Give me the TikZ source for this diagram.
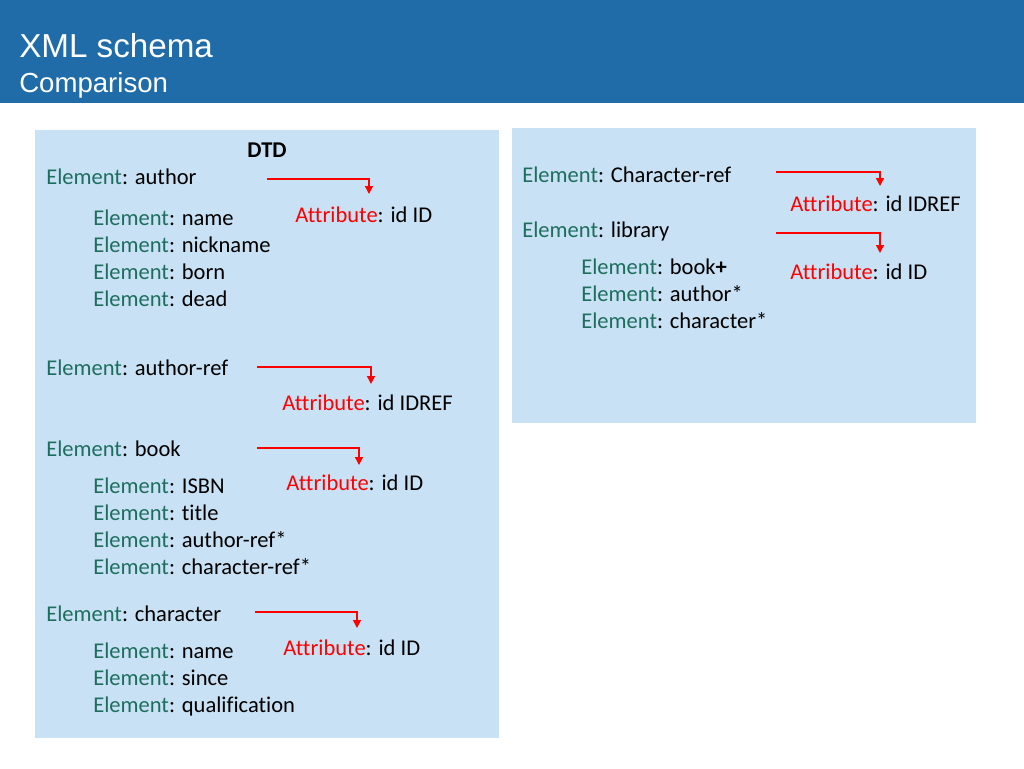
\documentclass[tikz,border=0pt]{standalone}
\usepackage{fontspec}
\setmainfont{Carlito}[Ligatures={NoCommon}]
\newfontfamily\arialf{Liberation Sans}
\usetikzlibrary{arrows.meta}
\definecolor{hdr}{RGB}{31,108,168}
\definecolor{boxc}{RGB}{200,225,244}
\definecolor{elc}{RGB}{30,110,95}
\definecolor{atc}{RGB}{255,0,0}
\newcommand\elt[1]{{\color{elc}Element}: #1}
\newcommand\att[1]{{\color{atc}Attribute}: #1}
\begin{document}
\begin{tikzpicture}[x=0.75pt,y=-0.75pt,
  txt/.style={anchor=base west,inner sep=0pt,font=\fontsize{16.9}{20}\selectfont},
  panel/.style={fill=boxc,draw=none},
  arr/.style={draw=atc,line width=1.1pt,-{Triangle[width=6pt,length=6pt]}}]
\useasboundingbox (0,0) rectangle (1024,768);
\fill[white] (0,0) rectangle (1024,768);
\fill[hdr] (0,0) rectangle (1024,103);
\node[anchor=base west,inner sep=0pt,text=white,font=\arialf\fontsize{24.9}{28}\selectfont] (title) at (19,57) {XML schema};
\node[anchor=base west,inner sep=0pt,text=white,font=\arialf\fontsize{20.7}{24}\selectfont] (subtitle) at (19,92) {Comparison};
% panels
\path[panel] (35,130) rectangle (499,738);
\path[panel] (512,128) rectangle (976,423);
% left panel
\node[txt,anchor=base,font=\bfseries\fontsize{16.9}{20}\selectfont] (dtd) at (267,157) {DTD};
\node[txt] (eauthor) at (46,184) {\elt{author}};
\node[txt] (ename) at (93,225) {\elt{name}};
\node[txt] (enick) at (93,252) {\elt{nickname}};
\node[txt] (eborn) at (93,279) {\elt{born}};
\node[txt] (edead) at (93,306) {\elt{dead}};
\node[txt] (aauthor) at (295,222) {\att{id ID}};
\node[txt] (eauthref) at (46,375) {\elt{author-ref}};
\node[txt] (aauthref) at (282,410) {\att{id IDREF}};
\node[txt] (ebook) at (46,456) {\elt{book}};
\node[txt] (eisbn) at (93,493) {\elt{ISBN}};
\node[txt] (etitle) at (93,520) {\elt{title}};
\node[txt] (ebar) at (93,547) {\elt{author-ref*}};
\node[txt] (ebcr) at (93,574) {\elt{character-ref*}};
\node[txt] (abook) at (286,490) {\att{id ID}};
\node[txt] (echar) at (46,621) {\elt{character}};
\node[txt] (ecname) at (93,658) {\elt{name}};
\node[txt] (ecsince) at (93,685) {\elt{since}};
\node[txt] (ecqual) at (93,712) {\elt{qualification}};
\node[txt] (achar) at (283,655) {\att{id ID}};
% right panel
\node[txt] (echref) at (522,182) {\elt{Character-ref}};
\node[txt] (achref) at (790,211) {\att{id IDREF}};
\node[txt] (elib) at (522,237) {\elt{library}};
\node[txt] (elbook) at (581,274) {\elt{book{\bfseries+}}};
\node[txt] (elauth) at (581,301) {\elt{author*}};
\node[txt] (elchar) at (581,328) {\elt{character*}};
\node[txt] (alib) at (790,279) {\att{id ID}};
% connectors
\coordinate (s1) at (267,179); \coordinate (t1) at (369,194);
\coordinate (s2) at (257,367); \coordinate (t2) at (371,384);
\coordinate (s3) at (257,448); \coordinate (t3) at (359,465);
\coordinate (s4) at (255,612); \coordinate (t4) at (357,628);
\coordinate (s5) at (776,172); \coordinate (t5) at (880,186);
\coordinate (s6) at (776,233); \coordinate (t6) at (880,253);
\draw[arr] (s1) -| (t1);
\draw[arr] (s2) -| (t2);
\draw[arr] (s3) -| (t3);
\draw[arr] (s4) -| (t4);
\draw[arr] (s5) -| (t5);
\draw[arr] (s6) -| (t6);
\end{tikzpicture}
\end{document}
